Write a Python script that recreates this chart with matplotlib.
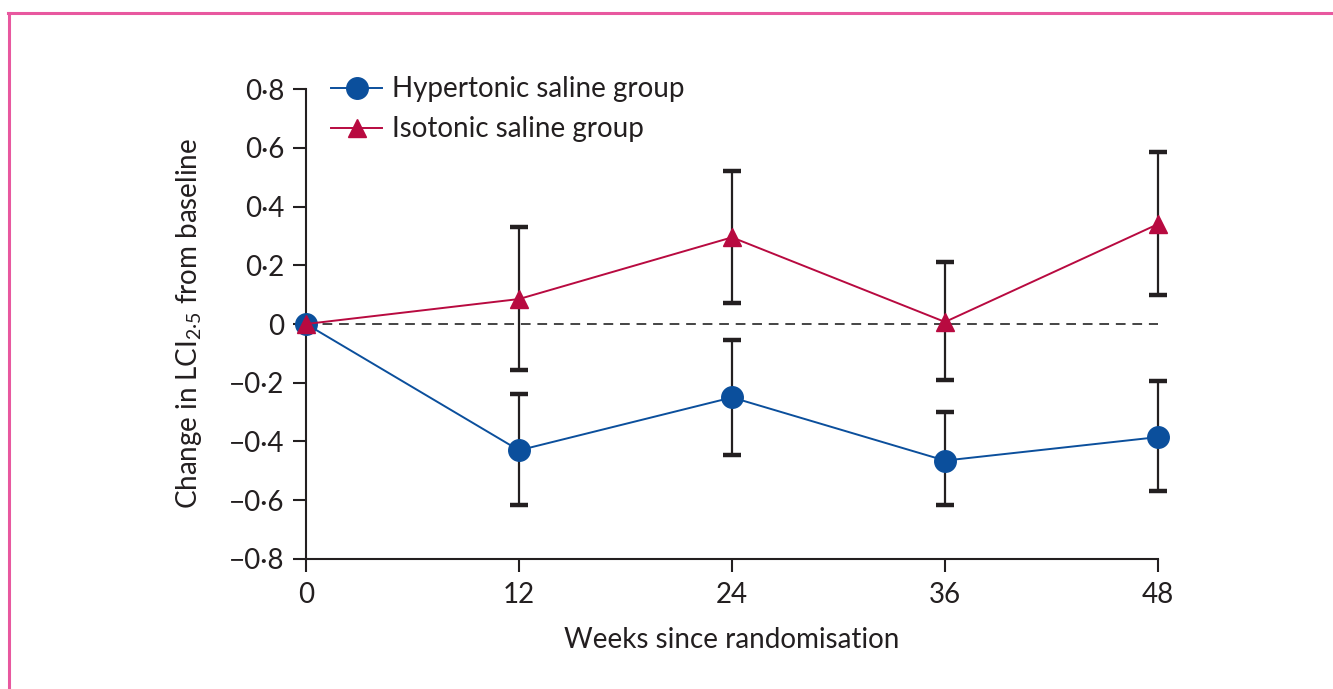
import matplotlib.pyplot as plt
from matplotlib.lines import Line2D

# data
weeks = [0, 12, 24, 36, 48]
hyper_mean = [0.0, -0.43, -0.25, -0.465, -0.385]
hyper_lo = [0.0, -0.615, -0.445, -0.615, -0.57]
hyper_hi = [0.0, -0.24, -0.055, -0.30, -0.195]
iso_mean = [0.0, 0.085, 0.295, 0.007, 0.34]
iso_lo = [0.0, -0.155, 0.07, -0.19, 0.10]
iso_hi = [0.0, 0.33, 0.52, 0.21, 0.585]

yticks = [-0.8, -0.6, -0.4, -0.2, 0, 0.2, 0.4, 0.6, 0.8]
ytick_labels = ["−0·8", "−0·6", "−0·4", "−0·2", "0", "0·2", "0·4", "0·6", "0·8"]

BLUE = "#0b4f9c"
RED = "#b80a40"
INK = "#231f20"

plt.rcParams["font.family"] = ["Lato", "DejaVu Sans"]
plt.rcParams["mathtext.fontset"] = "custom"
plt.rcParams["mathtext.rm"] = "Lato"

fig = plt.figure(figsize=(13.33, 6.89), dpi=100)
ax = fig.add_axes([0.2296, 0.1887, 0.6391, 0.6821])

# pink frame (top and left only visible)
fig.add_artist(Line2D([0.006, 1.0], [0.981, 0.981], color="#e8589f", lw=2.2, transform=fig.transFigure))
fig.add_artist(Line2D([0.0065, 0.0065], [0.0, 0.981], color="#e8589f", lw=2.2, transform=fig.transFigure))

ax.axhline(0, color="#444444", lw=1.4, ls=(0, (5, 3.5)), zorder=1)

def bars(mean, lo, hi):
    err = [[m - l for m, l in zip(mean, lo)], [h - m for m, h in zip(mean, hi)]]
    cont = ax.errorbar(weeks[1:], mean[1:], yerr=[e[1:] for e in err], fmt="none",
                       ecolor=INK, elinewidth=1.6, capsize=6.5, capthick=3.2, zorder=2)
    for art in cont.get_children():
        art.set_clip_on(False)

bars(hyper_mean, hyper_lo, hyper_hi)
bars(iso_mean, iso_lo, iso_hi)

ax.plot(weeks, hyper_mean, color=BLUE, lw=1.4, marker="o", ms=15.5,
        label="Hypertonic saline group", zorder=3, clip_on=False)
ax.plot(weeks, iso_mean, color=RED, lw=1.4, marker="^", ms=13,
        label="Isotonic saline group", zorder=4, clip_on=False)

ax.set_xlim(0, 48)
ax.set_ylim(-0.8, 0.8)
ax.set_xticks(weeks)
ax.set_yticks(yticks)
ax.set_yticklabels(ytick_labels)

for s in ["top", "right"]:
    ax.spines[s].set_visible(False)
for s in ["left", "bottom"]:
    ax.spines[s].set_linewidth(1.5)
    ax.spines[s].set_color(INK)
ax.tick_params(axis="both", direction="out", length=9.5, width=1.5, color=INK,
               labelsize=20, labelcolor=INK)
ax.tick_params(axis="x", pad=7)
ax.tick_params(axis="y", pad=6)

ax.set_xlabel("Weeks since randomisation", fontsize=20, color=INK, labelpad=14)
ax.set_ylabel(r"Change in LCI$_{\mathrm{2·5}}$ from baseline", fontsize=20, color=INK, labelpad=18)

ax.legend(loc="upper left", bbox_to_anchor=(0.0, 1.08), frameon=False, fontsize=20,
          handlelength=1.85, handletextpad=0.35, labelspacing=0.5, labelcolor=INK)

fig.savefig("out.png", dpi=100)
